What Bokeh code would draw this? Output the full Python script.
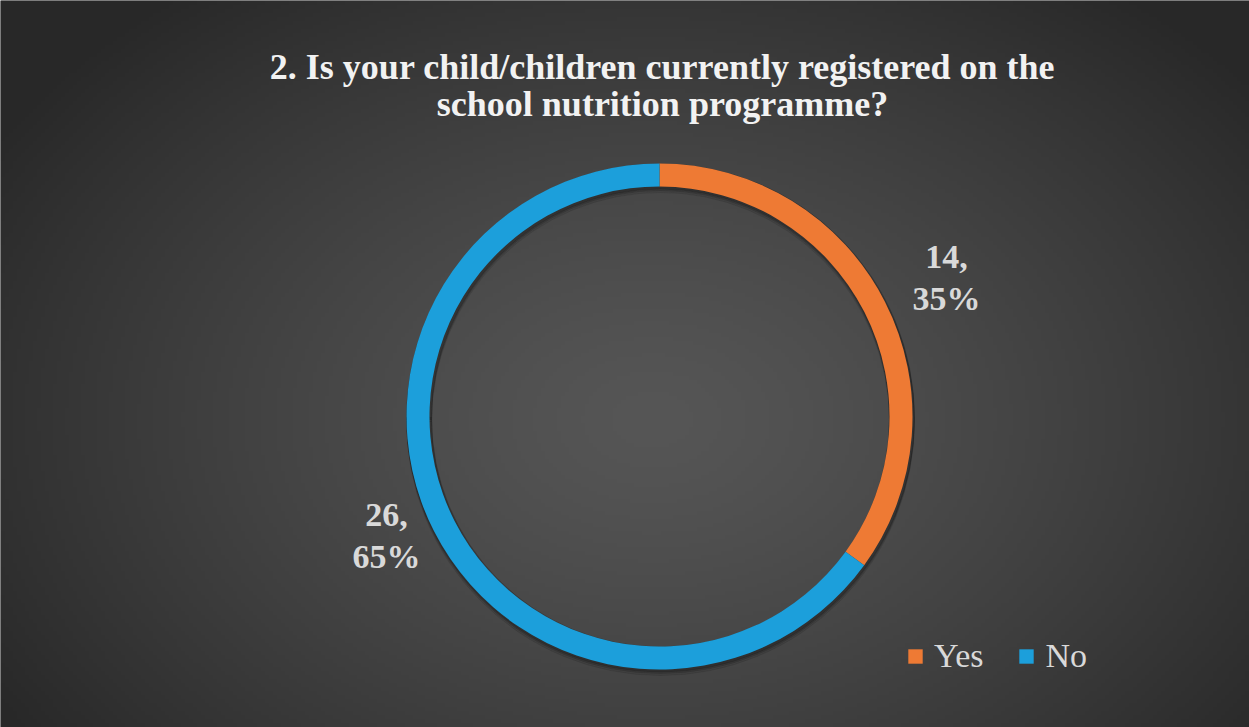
import numpy as np
from bokeh.plotting import figure
from bokeh.models import Range1d, Legend, LegendItem, ColumnDataSource
from bokeh.embed import file_html
from bokeh.resources import INLINE

# Survey answers
categories = ["Yes", "No"]
counts = [14, 26]
colors = ["#EE7A34", "#1C9FDB"]
title_lines = ["2. Is your child/children currently registered on the",
               "school nutrition programme?"]

W, H = 1249, 727
p = figure(width=W, height=H, output_backend="svg", toolbar_location=None,
           x_range=Range1d(0, W), y_range=Range1d(0, H),
           min_border=0, min_border_left=0, min_border_right=0,
           min_border_top=0, min_border_bottom=0)
p.axis.visible = False
p.grid.visible = False
p.outline_line_color = None
p.background_fill_color = "#3a3a3a"
p.border_fill_color = "#3a3a3a"

# radial gradient backdrop
ny, nx = 182, 312
yy, xx = np.mgrid[0:ny, 0:nx]
cx, cy = nx * 0.52, ny * 0.42
d = np.sqrt(((xx - cx) / (nx * 0.62)) ** 2 + ((yy - cy) / (ny * 0.75)) ** 2)
d = np.clip(d, 0, 1)
lv = (86 - (86 - 40) * d ** 1.3).astype(np.uint32)
img = (255 << 24) | (lv << 16) | (lv << 8) | lv
p.image_rgba(image=[img.astype(np.uint32)], x=0, y=0, dw=W, dh=H)

# donut
cxp, cyp = 659, H - 416
r_out, r_in = 253, 230
total = sum(counts)
fracs = [c / total for c in counts]
cum = np.cumsum([0] + fracs)
start = [np.pi / 2 - 2 * np.pi * cum[i + 1] for i in range(len(counts))]
end = [np.pi / 2 - 2 * np.pi * cum[i] for i in range(len(counts))]

src = ColumnDataSource(dict(cat=categories, start=start, end=end, color=colors,
                            x=[cxp] * 2, y=[cyp] * 2))
# soft shadow under the ring
for k, a in [(5, 0.10), (3, 0.15), (1.5, 0.2)]:
    p.annular_wedge(x=cxp + 1, y=cyp - k, inner_radius=r_in - 1, outer_radius=r_out + 1,
                    start_angle=-np.pi, end_angle=np.pi, color="#111111", alpha=a)
wedges = p.annular_wedge(x="x", y="y", inner_radius=r_in, outer_radius=r_out,
                         start_angle="start", end_angle="end", fill_color="color",
                         line_color=None, source=src)

serif = "Liberation Serif"

# data labels
label_pos = [(946, H - 277), (386, H - 535)]
for i, (lx, ly) in enumerate(label_pos):
    pct = round(fracs[i] * 100)
    p.text(x=[lx], y=[ly], text=[f"{counts[i]},\n{pct}%"], text_align="center",
           text_baseline="middle", text_font=serif, text_font_style="bold",
           text_font_size="34px", text_color="#D9D9D9", text_line_height=1.12)

# title
p.text(x=[662] * 2, y=[H - 66, H - 103], text=title_lines, text_align="center",
       text_baseline="middle", text_font=serif, text_font_style="bold",
       text_font_size="36px", text_color="#F2F2F2")

# legend
items = [LegendItem(label=categories[i], renderers=[wedges], index=i) for i in range(2)]
legend = Legend(items=items, orientation="horizontal", location=(906, 52),
                label_text_font=serif, label_text_font_size="34px",
                label_text_color="#D9D9D9", glyph_width=18, glyph_height=18,
                background_fill_alpha=0, border_line_alpha=0, spacing=34,
                label_standoff=10, padding=0, margin=0)
p.add_layout(legend, "center")

open("out.html", "w").write(file_html(p, INLINE))
